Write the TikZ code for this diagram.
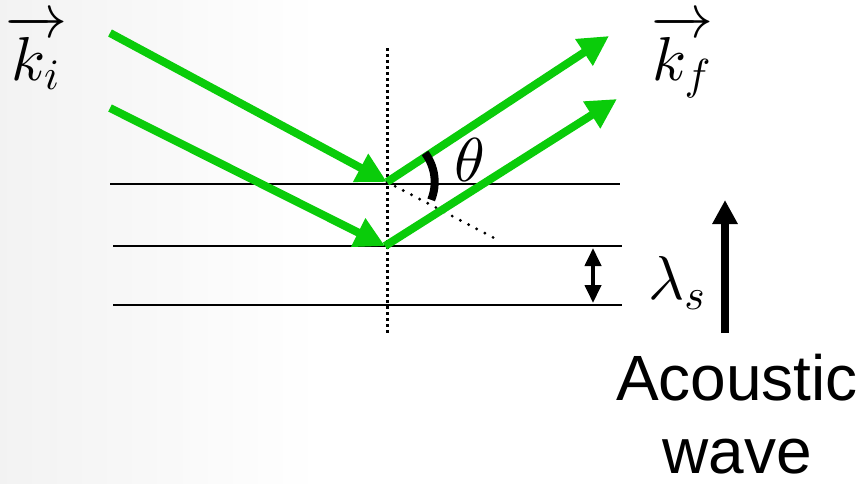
\documentclass[tikz,border=0pt]{standalone}
\usepackage{amsmath}
\usepackage{fontspec}
\setsansfont{Liberation Sans}
\usetikzlibrary{arrows.meta,positioning}
\DeclareFontShape{OML}{cmm}{m}{it}{<->cmmi10}{}
\DeclareFontShape{OMS}{cmsy}{m}{n}{<->cmsy10}{}
\DeclareFontShape{OT1}{cmr}{m}{n}{<->cmr10}{}
\definecolor{raygreen}{RGB}{10,204,10}

\begin{document}
\begin{tikzpicture}[
  x=0.5pt, y=-0.5pt,
  ray/.style={draw=raygreen, line width=4pt, -{Triangle[length=15pt,width=15pt]}},
  layer/.style={draw, line width=1pt},
  normal/.style={draw, line width=1.5pt, dash pattern=on 1.5pt off 1.5pt},
  guide/.style={draw, line width=1.6pt, line cap=round, dash pattern=on 0pt off 4.6pt},
  lbl/.style={inner sep=0pt, font=\fontsize{31}{36}\selectfont},
  word/.style={inner sep=0pt, align=center, font=\sffamily\fontsize{32}{36.5}\selectfont}
]
\useasboundingbox (0,0) rectangle (865,483);
\shade[left color=black!5, right color=white] (0,0) rectangle (320,483);
% layers of the medium
\draw[layer] (110,184) -- (620,184);
\draw[layer] (113,246) -- (622,246);
\draw[layer] (113,305) -- (622,305);
% normal and continuation of the first ray
\coordinate (ntop) at (387,48);
\coordinate (nbot) at (387,333);
\draw[normal] (ntop) -- (nbot);
\coordinate (p1) at (387,182);
\coordinate (p2) at (385,246);
\coordinate (gend) at (498,240);
\draw[guide] (p1) -- (gend);
% incident and diffracted rays
\coordinate (in1) at (110,33);
\coordinate (in2) at (110,108);
\coordinate (out1) at (609,36);
\coordinate (out2) at (617,99);
\draw[ray] (in1) -- (p1);
\draw[ray] (in2) -- (p2);
\draw[ray] (p1) -- (out1);
\draw[ray] (p2) -- (out2);
% angle
\coordinate (th0) at (425,153);
\draw[line width=4pt] (th0) arc[start angle=37, end angle=-22, radius=24pt];
\node[lbl] (theta) at (470,160) {$\theta$};
\node[lbl, anchor=north] (ki) at (36,14) {$\overrightarrow{k_i}$};
\node[lbl, anchor=north] (kf) at (682,14) {$\overrightarrow{k_f}$};
% wavelength
\coordinate (la) at (593,248);
\coordinate (lb) at (593,303);
\draw[line width=2pt, {Triangle[length=9pt,width=8pt]}-{Triangle[length=9pt,width=8pt]}] (la) -- (lb);
\node[lbl] (lam) at (677,283) {$\lambda_s$};
% acoustic wave
\coordinate (wbot) at (725,333);
\coordinate (wtop) at (725,200);
\draw[line width=4pt, -{Triangle[length=12pt,width=12pt]}] (wbot) -- (wtop);
\node[word] (wave) at (737,414) {Acoustic\\wave};
\end{tikzpicture}
\end{document}
